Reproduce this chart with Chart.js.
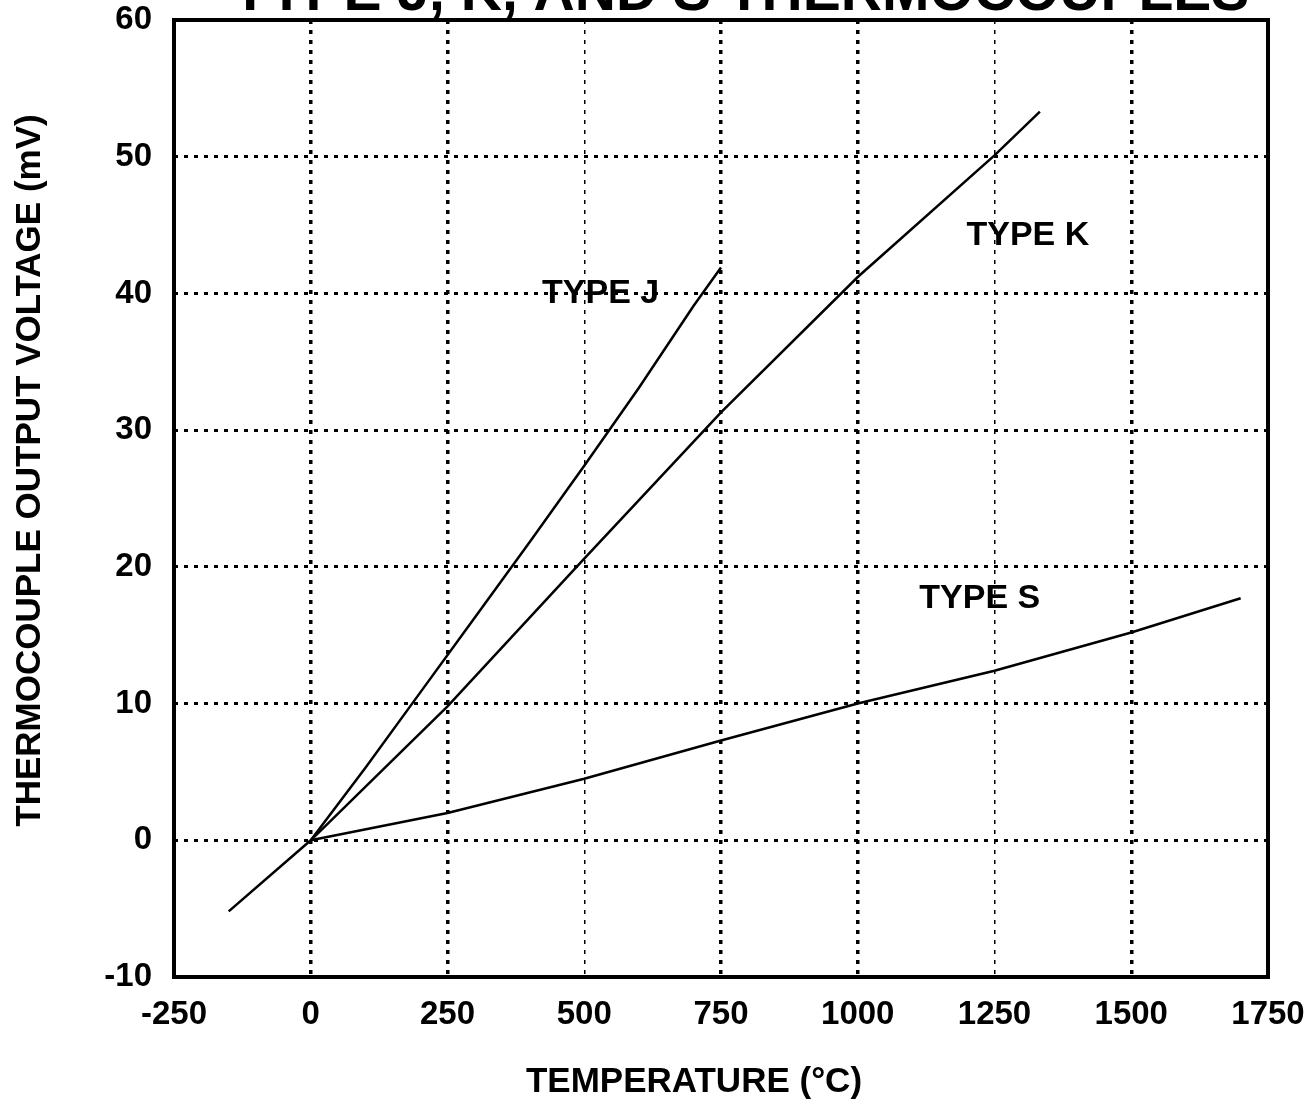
<!DOCTYPE html>
<html>
<head>
<meta charset="utf-8">
<script src="https://cdn.jsdelivr.net/npm/chart.js@4.4.1/dist/chart.umd.min.js"></script>
<style>
  html,body{margin:0;background:#fff;}
  canvas{display:block;}
</style>
</head>
<body>
<canvas id="c" width="1308" height="1106"></canvas>
<script>
// texts
const TITLE   = 'TYPE J, K, AND S THERMOCOUPLES';
const X_TITLE = 'TEMPERATURE (°C)';
const Y_TITLE = 'THERMOCOUPLE OUTPUT VOLTAGE (mV)';

// axes
const xTicks = [-250, 0, 250, 500, 750, 1000, 1250, 1500, 1750];
const yTicks = [-10, 0, 10, 20, 30, 40, 50, 60];
const heavyX = [0, 250, 750, 1000, 1500];   // bolder dotted verticals

// series (°C -> mV)
const tempJ = [0, 100, 200, 300, 400, 500, 600, 700, 750];
const voltJ = [0, 5.3, 10.8, 16.3, 21.8, 27.4, 33.1, 39.1, 41.9];
const tempK = [-150, 0, 250, 500, 750, 1000, 1250, 1333];
const voltK = [-5.2, 0, 9.8, 20.6, 31.3, 41.2, 50.1, 53.3];
const tempS = [0, 250, 500, 750, 1000, 1250, 1500, 1700];
const voltS = [0, 2.0, 4.5, 7.3, 10.0, 12.4, 15.2, 17.7];

// in-plot curve labels, in data units
const typeLabels = ['TYPE J', 'TYPE K', 'TYPE S'];
const labelTemp  = [530, 1311, 1223];
const labelVolt  = [40, 44.2, 17.7];

const FONT = '"Liberation Sans", Arial, Helvetica, sans-serif';
const pts = (xs, ys) => xs.map((x, i) => ({ x, y: ys[i] }));

const lineDs = (label, data) => ({
  label, data,
  borderColor: '#000', borderWidth: 2.5,
  pointRadius: 0, tension: 0, fill: false, showLine: true
});

const decor = {
  id: 'decor',
  afterDraw(chart) {
    const { ctx, chartArea: a, scales: { x, y } } = chart;
    const cx = (a.left + a.right) / 2, cy = (a.top + a.bottom) / 2;
    ctx.save();
    // frame
    ctx.strokeStyle = '#000';
    ctx.lineWidth = 4;
    ctx.strokeRect(a.left, a.top, a.right - a.left, a.bottom - a.top);

    ctx.fillStyle = '#000';
    ctx.textAlign = 'center';
    // title, mostly cut off above the frame
    ctx.font = 'bold 57px ' + FONT;
    ctx.textBaseline = 'alphabetic';
    ctx.fillText(TITLE, cx + 20, a.top - 10);

    // axis titles
    ctx.font = 'bold 35px ' + FONT;
    ctx.textBaseline = 'middle';
    ctx.fillText(X_TITLE, cx - 27, 1082);
    ctx.save();
    ctx.translate(30, cy - 28);
    ctx.rotate(-Math.PI / 2);
    ctx.fillText(Y_TITLE, 0, 0);
    ctx.restore();

    // curve labels
    ctx.font = 'bold 34px ' + FONT;
    typeLabels.forEach((t, i) => {
      ctx.fillText(t, x.getPixelForValue(labelTemp[i]), y.getPixelForValue(labelVolt[i]));
    });
    ctx.restore();
  }
};

new Chart(document.getElementById('c'), {
  type: 'scatter',
  data: {
    datasets: [
      lineDs('Type J', pts(tempJ, voltJ)),
      lineDs('Type K', pts(tempK, voltK)),
      lineDs('Type S', pts(tempS, voltS))
    ]
  },
  options: {
    responsive: false,
    animation: false,
    layout: { padding: { top: 20, right: 40, left: 0, bottom: 0 } },
    plugins: { legend: { display: false }, tooltip: { enabled: false } },
    scales: {
      x: {
        type: 'linear', min: -250, max: 1750,
        afterBuildTicks: s => { s.ticks = xTicks.map(v => ({ value: v })); },
        afterFit: s => { s.height = 129; s.paddingLeft = 0; s.paddingRight = 0; },
        grid: {
          color: '#000', drawTicks: false,
          lineWidth: c => heavyX.includes(c.tick && c.tick.value) ? 3.5 : 1.5
        },
        border: { display: false, dash: [4, 6] },
        ticks: {
          color: '#000', padding: 18, maxRotation: 0,
          font: { family: FONT, size: 33, weight: 'bold' },
          callback: v => String(v)
        }
      },
      y: {
        type: 'linear', min: -10, max: 60,
        afterBuildTicks: s => { s.ticks = yTicks.map(v => ({ value: v })); },
        afterFit: s => { s.width = 174; s.paddingTop = 0; s.paddingBottom = 0; },
        grid: { color: '#000', lineWidth: 3, drawTicks: false },
        border: { display: false, dash: [4, 6] },
        ticks: {
          color: '#000', padding: 22,
          font: { family: FONT, size: 33, weight: 'bold' },
          callback: v => String(v)
        }
      }
    }
  },
  plugins: [decor]
});
</script>
</body>
</html>
